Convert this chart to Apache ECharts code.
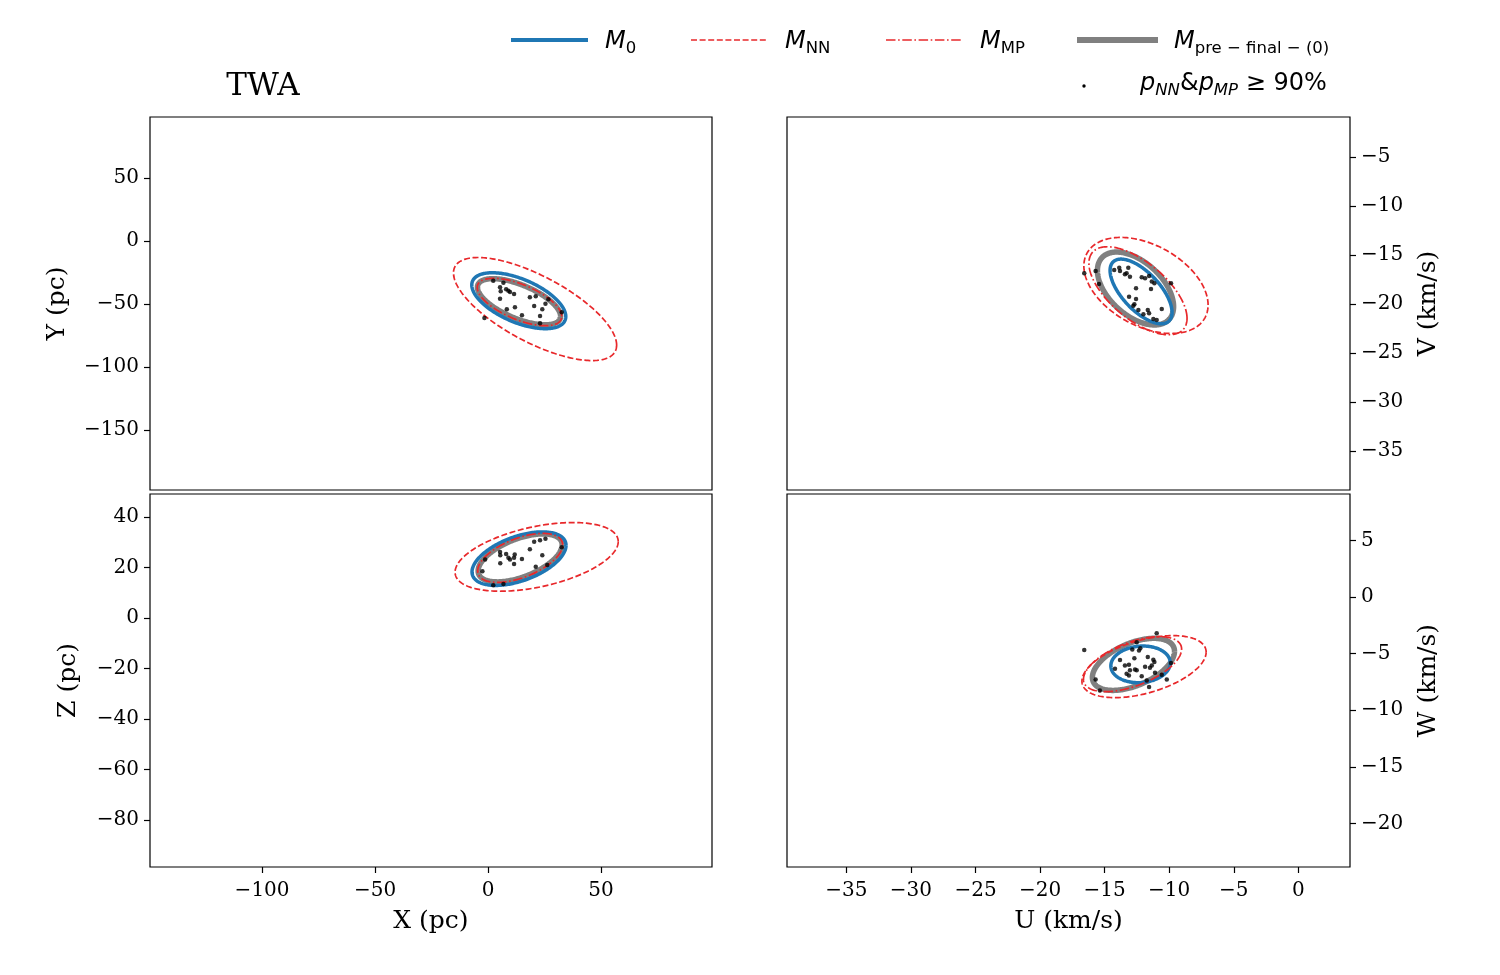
<!DOCTYPE html>
<html>
<head>
<meta charset="utf-8">
<script src="https://cdn.jsdelivr.net/npm/echarts@6/dist/echarts.min.js"></script>
<style>html,body{margin:0;padding:0;background:#fff;}#c{width:1500px;height:975px;}</style>
</head>
<body>
<div id="c"></div>
<script>
// ---- tick labels ----
const xTicksPc = [-100, -50, 0, 50];
const yTicksPc = [-150, -100, -50, 0, 50];
const zTicksPc = [-80, -60, -40, -20, 0, 20, 40];
const uTicks = [-35, -30, -25, -20, -15, -10, -5, 0];
const vTicks = [-35, -30, -25, -20, -15, -10, -5];
const wTicks = [-20, -15, -10, -5, 0, 5];

// ---- ellipses: [centre x, centre y, half-extent along x, half-extent along y, y offset at max x] ----
const xyM0   = [13.6, -47.4, 20.8, 22.2, -12.5];
const xyMNN  = [20.8, -54.0, 36.1, 40.9, -28.6];
const xyMMP  = [13.9, -48.4, 18.7, 18.8, -11.5];
const xyMpre = [13.7, -48.2, 18.4, 18.3, -11.5];

const xzM0   = [13.7, 23.5, 20.8, 10.6, 5.25];
const xzMNN  = [21.5, 24.2, 36.1, 13.6, 6.06];
const xzMMP  = [14.2, 23.8, 18.8, 9.7, 5.15];
const xzMpre = [14.2, 23.8, 18.6, 9.5, 5.15];

const uvM0   = [-12.18, -18.72, 2.40, 3.30, -2.14];
const uvMNN  = [-11.80, -18.11, 4.81, 4.90, -1.99];
const uvMMP  = [-12.42, -18.65, 3.80, 4.49, -2.81];
const uvMpre = [-12.61, -18.42, 2.95, 3.72, -1.84];

const uwM0   = [-12.22, -5.95, 2.30, 1.62, 0.13];
const uwMNN  = [-11.95, -6.15, 4.81, 2.74, 1.28];
const uwMMP  = [-12.84, -5.93, 3.80, 2.43, 1.33];
const uwMpre = [-12.77, -5.95, 3.18, 2.30, 1.15];

// ---- members with p_NN & p_MP >= 90% ----
const xyStars = [[2.3,-31.5],[6.8,-33.1],[5.3,-36.7],[8.0,-38.3],[9.0,-39.4],[9.7,-40.5],[11.5,-42.1],[5.6,-39.9],
  [5.3,-45.8],[18.5,-44.7],[21.1,-43.9],[25.4,-49.8],[26.7,-46.3],[20.4,-51.6],[24.0,-54.2],[11.9,-52.6],
  [8.3,-54.2],[15.0,-59.0],[23.0,-59.5],[32.6,-56.6],[23.0,-65.3],[-1.6,-61.1]];
const xzStars = [[-1.3,23.2],[-2.5,18.5],[2.3,13.0],[6.8,13.5],[5.3,26.1],[5.4,24.8],[8.0,25.3],[9.0,23.9],
  [9.7,23.2],[11.8,25.1],[11.5,23.9],[5.4,21.7],[11.5,21.4],[15.0,23.4],[18.5,27.2],[20.4,30.2],
  [23.0,30.8],[25.4,31.4],[24.0,24.8],[21.1,20.3],[26.2,21.0],[32.6,28.0]];
const uvStars = [[-16.58,-16.87],[-15.70,-16.63],[-15.44,-17.96],[-14.26,-16.53],[-13.87,-16.29],[-13.81,-16.63],
  [-13.17,-16.29],[-13.43,-16.97],[-13.30,-16.87],[-13.04,-17.21],[-12.13,-17.28],[-11.87,-17.38],[-11.56,-17.14],
  [-11.35,-17.71],[-11.15,-17.89],[-11.41,-18.47],[-9.86,-17.89],[-12.57,-18.40],[-13.11,-19.25],[-12.57,-19.49],
  [-12.70,-20.03],[-12.78,-20.17],[-12.39,-20.61],[-12.00,-21.05],[-11.66,-20.61],[-11.56,-20.95],[-10.58,-20.51],
  [-11.23,-21.53],[-10.97,-21.63]];
const uwStars = [[-16.58,-4.68],[-10.97,-3.20],[-12.52,-4.00],[-12.86,-4.63],[-12.34,-4.72],[-12.24,-4.52],
  [-11.66,-5.31],[-11.23,-5.54],[-11.15,-5.75],[-12.70,-5.42],[-13.81,-5.57],[-9.86,-5.84],[-13.43,-6.04],
  [-13.12,-5.98],[-14.20,-6.33],[-11.87,-6.16],[-11.49,-6.25],[-11.35,-6.04],[-13.04,-6.48],[-12.65,-6.40],
  [-12.52,-6.48],[-13.30,-6.78],[-13.12,-6.93],[-12.13,-6.99],[-11.10,-6.69],[-10.58,-6.86],[-11.74,-7.37],
  [-10.19,-7.28],[-15.70,-7.28],[-15.37,-8.25],[-11.56,-7.96]];

const BLUE = '#1f77b4', RED = '#e8282b', GRAY = '#808080';
const SERIF = 'DejaVu Serif', SANS = 'DejaVu Sans';

const chart = echarts.init(document.getElementById('c'), null, {renderer: 'canvas'});
const minus = v => String(v).replace('-', '\u2212');

function ellipseSeries(name, grid, ell, style, z) {
  return {
    type: 'custom', name: name, xAxisIndex: grid, yAxisIndex: grid, z: z, silent: true,
    data: [ell],
    encode: {x: 0, y: 1},
    renderItem: function (params, api) {
      const cx = api.value(0), cy = api.value(1), w = api.value(2), h = api.value(3), k = api.value(4);
      const m = Math.sqrt(Math.max(h * h - k * k, 0));
      const pts = [];
      const N = 240;
      for (let i = 0; i <= N; i++) {
        const t = 2 * Math.PI * i / N;
        pts.push(api.coord([cx + w * Math.cos(t), cy + k * Math.cos(t) + m * Math.sin(t)]));
      }
      return {type: 'polyline', shape: {points: pts}, style: Object.assign({fill: null}, style)};
    }
  };
}
const sM0 = {stroke: BLUE, lineWidth: 3.5};
const sNN = {stroke: RED, lineWidth: 1.7, lineDash: [6, 2.6]};
const sMP = {stroke: RED, lineWidth: 1.7, lineDash: [9.5, 2.6, 1.6, 2.6]};
const sPre = {stroke: GRAY, lineWidth: 5.5};

function starSeries(grid, data) {
  return {type: 'scatter', xAxisIndex: grid, yAxisIndex: grid, data: data, symbolSize: 4.5,
    itemStyle: {color: '#000'}, z: 10, silent: true};
}

const gridBase = {show: true, borderColor: '#000', borderWidth: 1.2, backgroundColor: 'transparent', containLabel: false};
const tickStyle = {show: true, length: 6, lineStyle: {color: '#000', width: 1.2}};
const labelStyleX = {color: '#000', fontFamily: SERIF, fontSize: 20, margin: 14, formatter: minus};
const labelStyleY = {color: '#000', fontFamily: SERIF, fontSize: 20, margin: 11, formatter: minus};
const nameStyle = {color: '#000', fontFamily: SERIF, fontSize: 25};

function axis(opts, ticks, showLabels, isX) {
  return Object.assign({
    type: 'value', scale: false,
    splitLine: {show: false},
    axisLine: {show: false, onZero: false},
    axisTick: showLabels ? Object.assign({customValues: ticks}, tickStyle) : {show: false},
    axisLabel: showLabels ? Object.assign({customValues: ticks}, isX ? labelStyleX : labelStyleY) : {show: false},
    nameTextStyle: nameStyle,
    nameLocation: 'middle'
  }, opts);
}

const option = {
  backgroundColor: '#fff',
  animation: false,
  grid: [
    Object.assign({left: 150, top: 117, width: 562, height: 373}, gridBase),
    Object.assign({left: 150, top: 494, width: 562, height: 373}, gridBase),
    Object.assign({left: 787, top: 117, width: 563, height: 373}, gridBase),
    Object.assign({left: 787, top: 494, width: 563, height: 373}, gridBase)
  ],
  xAxis: [
    axis({gridIndex: 0, min: -149.6, max: 99.1}, xTicksPc, false, true),
    axis({gridIndex: 1, min: -149.6, max: 99.1, name: 'X (pc)', nameGap: 42}, xTicksPc, true, true),
    axis({gridIndex: 2, min: -39.6, max: 4.0}, uTicks, false, true),
    axis({gridIndex: 3, min: -39.6, max: 4.0, name: 'U (km/s)', nameGap: 42}, uTicks, true, true)
  ],
  yAxis: [
    axis({gridIndex: 0, min: -197.6, max: 98.4, name: 'Y (pc)', nameGap: 80, nameRotate: 90}, yTicksPc, true, false),
    axis({gridIndex: 1, min: -98.6, max: 49.1, name: 'Z (pc)', nameGap: 69, nameRotate: 90}, zTicksPc, true, false),
    axis({gridIndex: 2, min: -38.98, max: -0.92, position: 'right', name: 'V (km/s)', nameGap: 66, nameRotate: 90}, vTicks, true, false),
    axis({gridIndex: 3, min: -23.85, max: 9.1, position: 'right', name: 'W (km/s)', nameGap: 66, nameRotate: 90}, wTicks, true, false)
  ],
  series: [
    ellipseSeries('M_pre-final-(0)', 0, xyMpre, sPre, 2),
    ellipseSeries('M_0', 0, xyM0, sM0, 3),
    ellipseSeries('M_NN', 0, xyMNN, sNN, 4),
    ellipseSeries('M_MP', 0, xyMMP, sMP, 5),
    starSeries(0, xyStars),
    ellipseSeries('M_pre-final-(0)', 1, xzMpre, sPre, 2),
    ellipseSeries('M_0', 1, xzM0, sM0, 3),
    ellipseSeries('M_NN', 1, xzMNN, sNN, 4),
    ellipseSeries('M_MP', 1, xzMMP, sMP, 5),
    starSeries(1, xzStars),
    ellipseSeries('M_pre-final-(0)', 2, uvMpre, sPre, 2),
    ellipseSeries('M_0', 2, uvM0, sM0, 3),
    ellipseSeries('M_NN', 2, uvMNN, sNN, 4),
    ellipseSeries('M_MP', 2, uvMMP, sMP, 5),
    starSeries(2, uvStars),
    ellipseSeries('M_pre-final-(0)', 3, uwMpre, sPre, 2),
    ellipseSeries('M_0', 3, uwM0, sM0, 3),
    ellipseSeries('M_NN', 3, uwMNN, sNN, 4),
    ellipseSeries('M_MP', 3, uwMMP, sMP, 5),
    starSeries(3, uwStars)
  ],
  graphic: (function () {
    const main = {fontFamily: SANS, fontSize: 24, lineHeight: 30, verticalAlign: 'middle', color: '#000'};
    const it = Object.assign({}, main, {fontStyle: 'italic'});
    const sub = {fontFamily: SANS, fontSize: 16.5, lineHeight: 18, verticalAlign: 'bottom', color: '#000'};
    const subI = Object.assign({}, sub, {fontStyle: 'italic'});
    const rich = {i: it, n: main, s: sub, si: subI};
    const txt = (x, y, t) => ({type: 'text', x: x, y: y, style: {text: t, rich: rich, verticalAlign: 'middle', align: 'left'}});
    const ln = (x1, x2, y, st) => ({type: 'line', shape: {x1: x1, y1: y, x2: x2, y2: y}, style: st});
    return [
      ln(511, 588, 40, {stroke: BLUE, lineWidth: 4}),
      txt(605, 42, '{i|M}{s|0}'),
      ln(691, 766, 40, {stroke: RED, lineWidth: 1.6, lineDash: [6, 2.6]}),
      txt(785, 42, '{i|M}{s|NN}'),
      ln(886, 962, 40, {stroke: RED, lineWidth: 1.6, lineDash: [9.5, 2.6, 1.6, 2.6]}),
      txt(980, 42, '{i|M}{s|MP}'),
      ln(1077, 1158, 40, {stroke: GRAY, lineWidth: 6}),
      txt(1174, 42, '{i|M}{s|pre \u2212 final \u2212 (0)}'),
      {type: 'circle', shape: {cx: 1084, cy: 86, r: 1.7}, style: {fill: '#000'}},
      txt(1140, 84, '{i|p}{si|NN}{n|&}{i|p}{si|MP}{n| \u2265 90%}'),
      {type: 'text', x: 263, y: 87, style: {text: 'TWA', fontFamily: SERIF, fontSize: 31, fill: '#000', align: 'center', verticalAlign: 'middle'}}
    ];
  })()
};
chart.setOption(option);
</script>
</body>
</html>
